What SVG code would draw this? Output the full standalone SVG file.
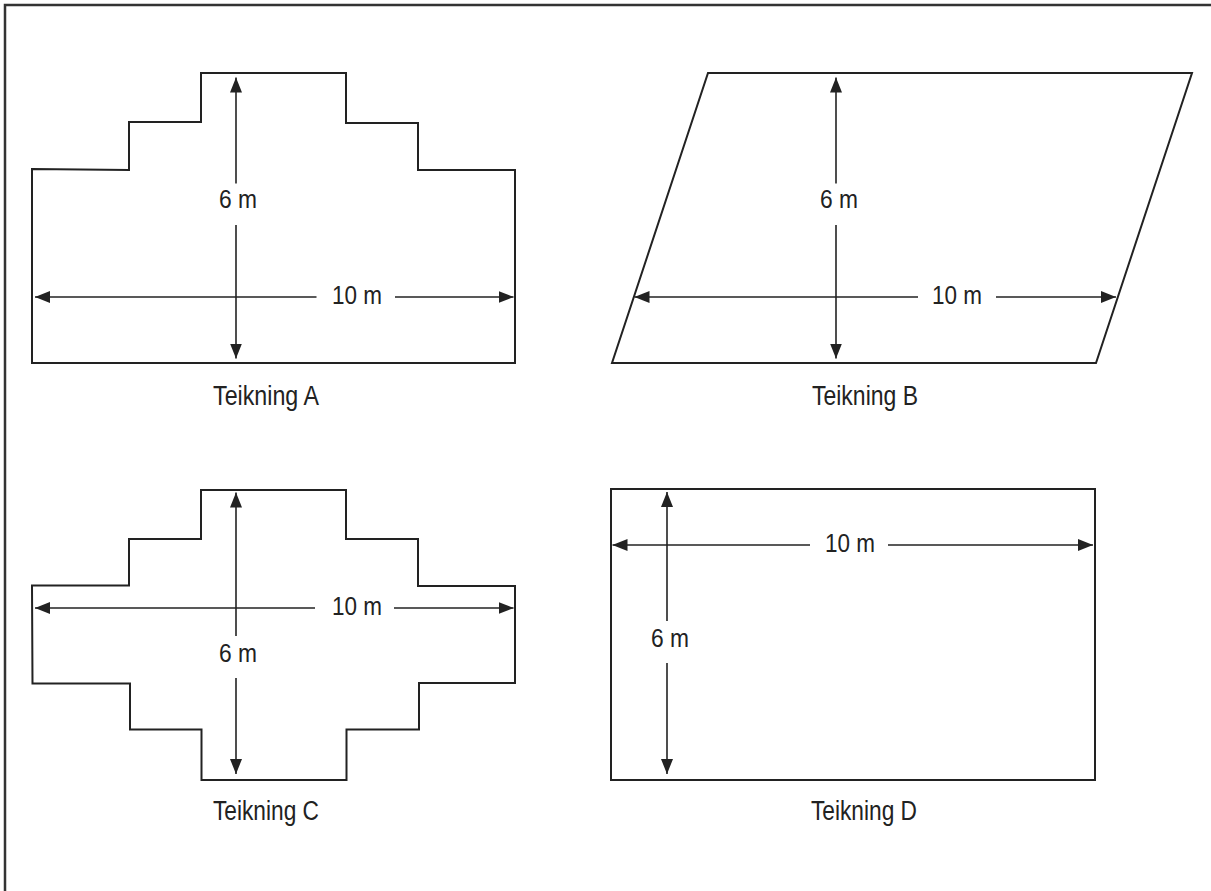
<svg xmlns="http://www.w3.org/2000/svg" width="1211" height="891" viewBox="0 0 1211 891">
<style>
.frame{fill:none;stroke:#333;stroke-width:2.5}
.shape{fill:none;stroke:#222;stroke-width:2;stroke-linejoin:miter}
.dim{fill:none;stroke:#222;stroke-width:1.6}
.arr{marker-end:url(#ah)}
.arrs{marker-start:url(#ah)}
.t{font-family:"Liberation Sans",Arial,sans-serif;fill:#222;text-anchor:middle}
.m{font-size:25px}
.cap{font-size:27px}
</style>
<defs>
<marker id="ah" viewBox="0 0 15 12" refX="15" refY="6" markerWidth="15" markerHeight="12" markerUnits="userSpaceOnUse" orient="auto-start-reverse">
<path d="M0,0 L15,6 L0,12 Z" fill="#222"/>
</marker>
</defs>
<rect width="1211" height="891" fill="#fff"/>
<path class="frame" d="M5,891 L5,5 L1211,5"/>

<g id="figA">
<path class="shape" d="M32,169 L129,170 L129,122 L201,122 L201,73 L346,73 L346,123 L418,123 L418,170 L515,170 L515,363 L32,363 Z"/>
<text class="t m" x="238" y="208" textLength="38" lengthAdjust="spacingAndGlyphs">6 m</text>
<text class="t m" x="357" y="304" textLength="50" lengthAdjust="spacingAndGlyphs">10 m</text>
<text class="t cap" x="266" y="405" textLength="106" lengthAdjust="spacingAndGlyphs">Teikning A</text>
</g>

<g id="figB">
<path class="shape" d="M708,73 L1192,73 L1096,363 L612,363 Z"/>
<text class="t m" x="839" y="208" textLength="38" lengthAdjust="spacingAndGlyphs">6 m</text>
<text class="t m" x="957" y="304" textLength="50" lengthAdjust="spacingAndGlyphs">10 m</text>
<text class="t cap" x="865" y="405" textLength="106" lengthAdjust="spacingAndGlyphs">Teikning B</text>
</g>

<g id="figC">
<path class="shape" d="M32,585.5 L129,585.5 L129,539 L201,539 L201,490 L346,490 L346,539 L418,539 L418,586 L515,586 L515,683 L419,683 L419,729.5 L346.5,729.5 L346.5,780 L201.5,780 L201.5,729.5 L130,729.5 L130,683.5 L32.5,683.5 Z"/>
<text class="t m" x="238" y="662" textLength="38" lengthAdjust="spacingAndGlyphs">6 m</text>
<text class="t m" x="357" y="615" textLength="50" lengthAdjust="spacingAndGlyphs">10 m</text>
<text class="t cap" x="266" y="820" textLength="106" lengthAdjust="spacingAndGlyphs">Teikning C</text>
</g>

<g id="figD">
<rect class="shape" x="611" y="489" width="484" height="291"/>
<text class="t m" x="670" y="646.5" textLength="38" lengthAdjust="spacingAndGlyphs">6 m</text>
<text class="t m" x="850" y="551.5" textLength="50" lengthAdjust="spacingAndGlyphs">10 m</text>
<text class="t cap" x="864" y="820" textLength="106" lengthAdjust="spacingAndGlyphs">Teikning D</text>
</g>

<g id="connectors">
<!-- A -->
<line class="dim arrs" x1="236" y1="77.5" x2="236" y2="183.5"/>
<line class="dim arr" x1="236" y1="225" x2="236" y2="358.5"/>
<line class="dim arrs" x1="35" y1="297" x2="316.5" y2="297"/>
<line class="dim arr" x1="395" y1="297" x2="513.5" y2="297"/>
<!-- B -->
<line class="dim arrs" x1="836" y1="77.5" x2="836" y2="183.5"/>
<line class="dim arr" x1="836" y1="225" x2="836" y2="358.5"/>
<line class="dim arrs" x1="634.5" y1="297" x2="918" y2="297"/>
<line class="dim arr" x1="996" y1="297" x2="1116" y2="297"/>
<!-- C -->
<line class="dim arrs" x1="236" y1="492.5" x2="236" y2="636"/>
<line class="dim arr" x1="236" y1="678" x2="236" y2="774"/>
<line class="dim arrs" x1="35" y1="608" x2="315" y2="608"/>
<line class="dim arr" x1="394" y1="608" x2="513.5" y2="608"/>
<!-- D -->
<line class="dim arrs" x1="667" y1="492" x2="667" y2="621"/>
<line class="dim arr" x1="667" y1="663" x2="667" y2="774"/>
<line class="dim arrs" x1="612.5" y1="545" x2="810" y2="545"/>
<line class="dim arr" x1="888" y1="545" x2="1093" y2="545"/>
</g>
</svg>
